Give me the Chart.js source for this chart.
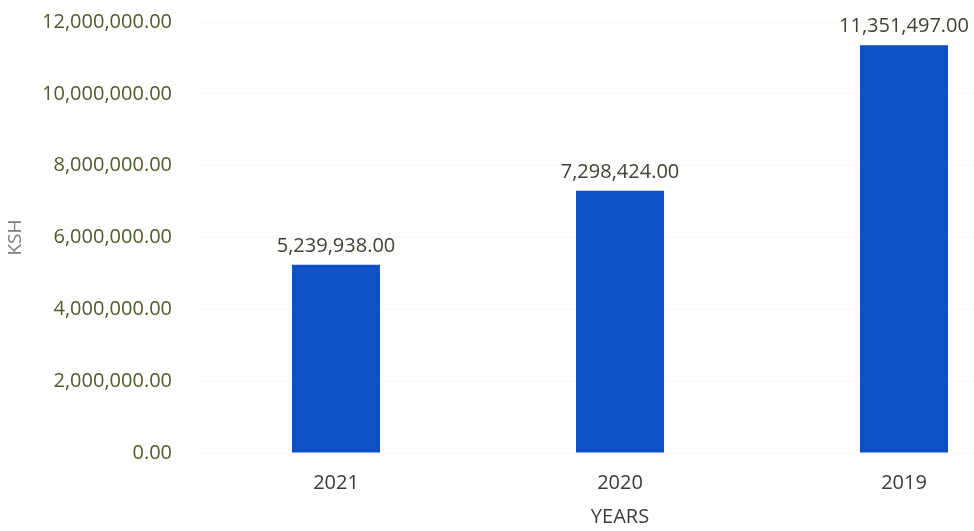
<!DOCTYPE html>
<html>
<head>
<meta charset="utf-8">
<script src="https://cdn.jsdelivr.net/npm/chart.js@4"></script>
<style>
    body { margin: 0; overflow: hidden; background: #fff; }
    #wrap { width: 1060px; height: 531px; }
</style>
</head>
<body>
<div id="wrap"><canvas id="ksChart" width="1060" height="531"></canvas></div>
<script>
const years = ['2021', '2020', '2019'];
const amounts = [5239938, 7298424, 11351497];
const yTicks = [0, 2000000, 4000000, 6000000, 8000000, 10000000, 12000000];

const FONT = '"Open Sans", sans-serif';

function money(v) {
    return v.toLocaleString('en-US', { minimumFractionDigits: 2, maximumFractionDigits: 2 });
}

// writes the amount above each bar
const barValues = {
    id: 'barValues',
    afterDatasetsDraw(chart) {
        const ctx = chart.ctx;
        const meta = chart.getDatasetMeta(0);
        ctx.save();
        ctx.font = '20px ' + FONT;
        ctx.fillStyle = '#3d4233';
        ctx.textAlign = 'center';
        ctx.textBaseline = 'bottom';
        meta.data.forEach((bar, i) => {
            ctx.fillText(money(chart.data.datasets[0].data[i]), bar.x, bar.y - 9);
        });
        ctx.restore();
    }
};

new Chart(
    document.getElementById('ksChart'),
    {
        type: 'bar',
        data: {
            labels: years,
            datasets: [
                {
                    data: amounts,
                    backgroundColor: '#0e50c5',
                    categoryPercentage: 1,
                    barPercentage: 0.31
                }
            ]
        },
        plugins: [barValues],
        options: {
            responsive: false,
            animation: false,
            layout: { padding: { top: 22, right: 14, left: 0, bottom: 0 } },
            plugins: {
                legend: { display: false },
                tooltip: { enabled: false }
            },
            scales: {
                x: {
                    grid: { display: false, drawTicks: false },
                    border: { display: false },
                    ticks: { color: '#3a3a3a', font: { family: FONT, size: 20 }, padding: 18 },
                    title: {
                        display: true,
                        text: 'YEARS',
                        color: '#3d3d3d',
                        font: { family: FONT, size: 20 },
                        padding: { top: 0, bottom: 2 }
                    },
                    afterFit(scale) { scale.height = 78; }
                },
                y: {
                    min: 0,
                    max: 12000000,
                    afterBuildTicks(scale) { scale.ticks = yTicks.map(v => ({ value: v })); },
                    // invisible tick marks keep the labels off the plot without padding the top
                    grid: { color: 'rgba(0,0,0,0.025)', drawTicks: true, tickLength: 20, tickColor: 'rgba(0,0,0,0)' },
                    border: { display: false },
                    ticks: {
                        color: '#4d5c2a',
                        font: { family: FONT, size: 20 },
                        padding: 2,
                        callback: v => money(v)
                    },
                    title: {
                        display: true,
                        text: 'KSH',
                        color: '#7f7f7f',
                        font: { family: FONT, size: 19 },
                        padding: { top: 4, bottom: 0 }
                    },
                    afterFit(scale) { scale.width = 194; }
                }
            }
        }
    });
</script>
</body>
</html>
